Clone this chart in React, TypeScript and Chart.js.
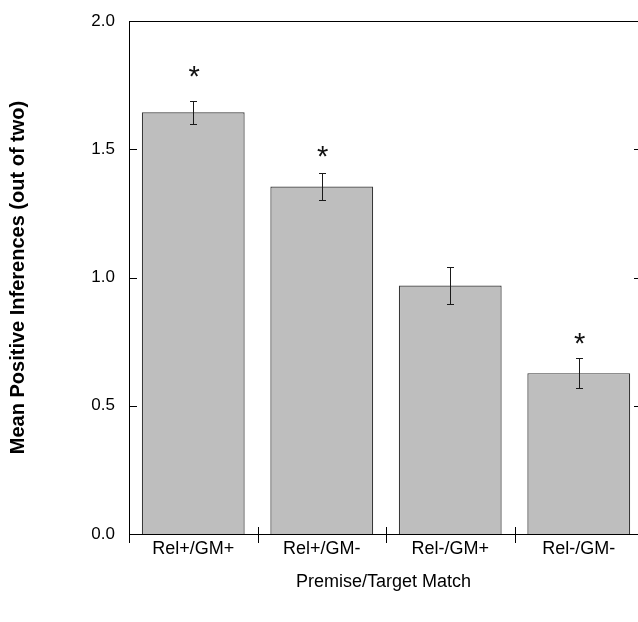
import React, { useEffect, useRef } from "react";
import { Chart, registerables } from "chart.js";

Chart.register(...registerables);

const categories = ["Rel+/GM+", "Rel+/GM-", "Rel-/GM+", "Rel-/GM-"];
const means = [1.644, 1.355, 0.969, 0.627];
const errors = [0.046, 0.051, 0.071, 0.058];
const starLevels: (number | null)[] = [1.805, 1.493, null, 0.764];
const yTicks = [0, 0.5, 1.0, 1.5, 2.0];
const yTitle = "Mean Positive Inferences (out of two)";
const xTitle = "Premise/Target Match";
const starText = "*";

const W = 638;
const H = 622;
const FONT = "'Liberation Sans', Arial, Helvetica, sans-serif";

const decorPlugin = {
  id: "decor",
  afterDatasetsDraw(chart: any) {
    const { ctx, chartArea: a, scales } = chart;
    const x = scales.x;
    const y = scales.y;
    ctx.save();
    ctx.lineWidth = 1;
    ctx.strokeStyle = "#000";
    // top frame line
    ctx.beginPath();
    ctx.moveTo(a.left, Math.round(a.top) + 0.5);
    ctx.lineTo(a.right, Math.round(a.top) + 0.5);
    ctx.stroke();
    // inward y ticks left and right
    yTicks.forEach((v) => {
      const py = Math.round(y.getPixelForValue(v)) + 0.5;
      ctx.beginPath();
      ctx.moveTo(a.left, py);
      ctx.lineTo(a.left + 8, py);
      ctx.moveTo(a.right - 4, py);
      ctx.lineTo(a.right, py);
      ctx.stroke();
    });
    // category divider ticks crossing the x axis
    const base = Math.round(a.bottom);
    for (let i = 0; i < categories.length; i++) {
      const px = Math.round(x.getPixelForValue(i + 0.5)) + 0.5;
      ctx.beginPath();
      ctx.moveTo(px, base - 7);
      ctx.lineTo(px, base + 9);
      ctx.stroke();
    }
    // error bars
    ctx.strokeStyle = "#1a1a1a";
    means.forEach((m, i) => {
      const px = Math.round(x.getPixelForValue(i + 1)) + 0.5;
      const top = Math.round(y.getPixelForValue(m + errors[i])) + 0.5;
      const bot = Math.round(y.getPixelForValue(m - errors[i])) + 0.5;
      ctx.beginPath();
      ctx.moveTo(px, top);
      ctx.lineTo(px, bot);
      ctx.moveTo(px - 3.5, top);
      ctx.lineTo(px + 3.5, top);
      ctx.moveTo(px - 3.5, bot);
      ctx.lineTo(px + 3.5, bot);
      ctx.stroke();
    });
    // significance asterisks
    ctx.fillStyle = "#111";
    ctx.font = `100px ${FONT}`;
    const m0 = ctx.measureText(starText);
    const h0 = m0.actualBoundingBoxAscent + m0.actualBoundingBoxDescent;
    const size = h0 > 0 ? (100 * 10.5) / h0 : 32;
    ctx.font = `${size}px ${FONT}`;
    const mt = ctx.measureText(starText);
    ctx.textAlign = "center";
    ctx.textBaseline = "alphabetic";
    starLevels.forEach((s, i) => {
      if (s == null) return;
      const px = x.getPixelForValue(i + 1) + 1;
      const cy = y.getPixelForValue(s);
      const baseY = cy + (mt.actualBoundingBoxAscent - mt.actualBoundingBoxDescent) / 2;
      ctx.fillText(starText, px, baseY);
    });
    ctx.restore();
  },
};

export default function App() {
  const ref = useRef<HTMLCanvasElement | null>(null);
  useEffect(() => {
    if (!ref.current) return;
    const xMax = 0.5 + (W - 129) / 128.5;
    const chart = new Chart(ref.current, {
      type: "bar",
      data: {
        datasets: [
          {
            data: categories.map((_, i) => ({ x: i + 1, y: means[i] })),
            backgroundColor: "#bebebe",
            borderColor: "#383838",
            borderWidth: 1.2,
            borderSkipped: "bottom",
            barPercentage: 0.8,
            categoryPercentage: 1,
          },
        ],
      },
      options: {
        responsive: false,
        animation: false,
        devicePixelRatio: 1,
        layout: { padding: { top: 21, left: 0, right: 0, bottom: 0 } },
        plugins: { legend: { display: false }, tooltip: { enabled: false } },
        scales: {
          x: {
            type: "linear",
            offset: false,
            min: 0.5,
            max: xMax,
            grid: { display: false, drawTicks: false, offset: false },
            border: { display: true, color: "#000", width: 1 },
            afterBuildTicks: (scale: any) => {
              scale.ticks = categories.map((_, i) => ({ value: i + 1 }));
            },
            afterFit: (scale: any) => {
              scale.height = H - 534;
              scale.paddingLeft = 0;
              scale.paddingRight = 0;
            },
            ticks: {
              autoSkip: false,
              maxRotation: 0,
              padding: 4,
              color: "#000",
              font: { family: FONT, size: 18 },
              callback: (v: any) => categories[Math.round(Number(v)) - 1] ?? "",
            },
            title: {
              display: true,
              text: xTitle,
              color: "#000",
              font: { family: FONT, size: 18 },
              padding: { top: 0, bottom: 29 },
            },
          },
          y: {
            type: "linear",
            min: 0,
            max: 2,
            grid: { display: false, drawTicks: false },
            border: { display: true, color: "#000", width: 1 },
            afterBuildTicks: (scale: any) => {
              scale.ticks = yTicks.map((v) => ({ value: v }));
            },
            afterFit: (scale: any) => {
              scale.width = 129;
              scale.paddingTop = 10;
              scale.paddingBottom = 10;
            },
            ticks: {
              padding: 14,
              color: "#000",
              font: { family: FONT, size: 17 },
              callback: (v: any) => Number(v).toFixed(1),
            },
            title: {
              display: true,
              text: yTitle,
              color: "#000",
              font: { family: FONT, size: 20, weight: "bold" },
              padding: { top: 6, bottom: 0 },
            },
          },
        },
      },
      plugins: [decorPlugin],
    } as any);
    return () => chart.destroy();
  }, []);
  return (
    <div style={{ position: "absolute", left: 0, top: 0, width: W, height: H, background: "#fff" }}>
      <canvas ref={ref} width={W} height={H} style={{ width: W, height: H, display: "block" }} />
    </div>
  );
}
